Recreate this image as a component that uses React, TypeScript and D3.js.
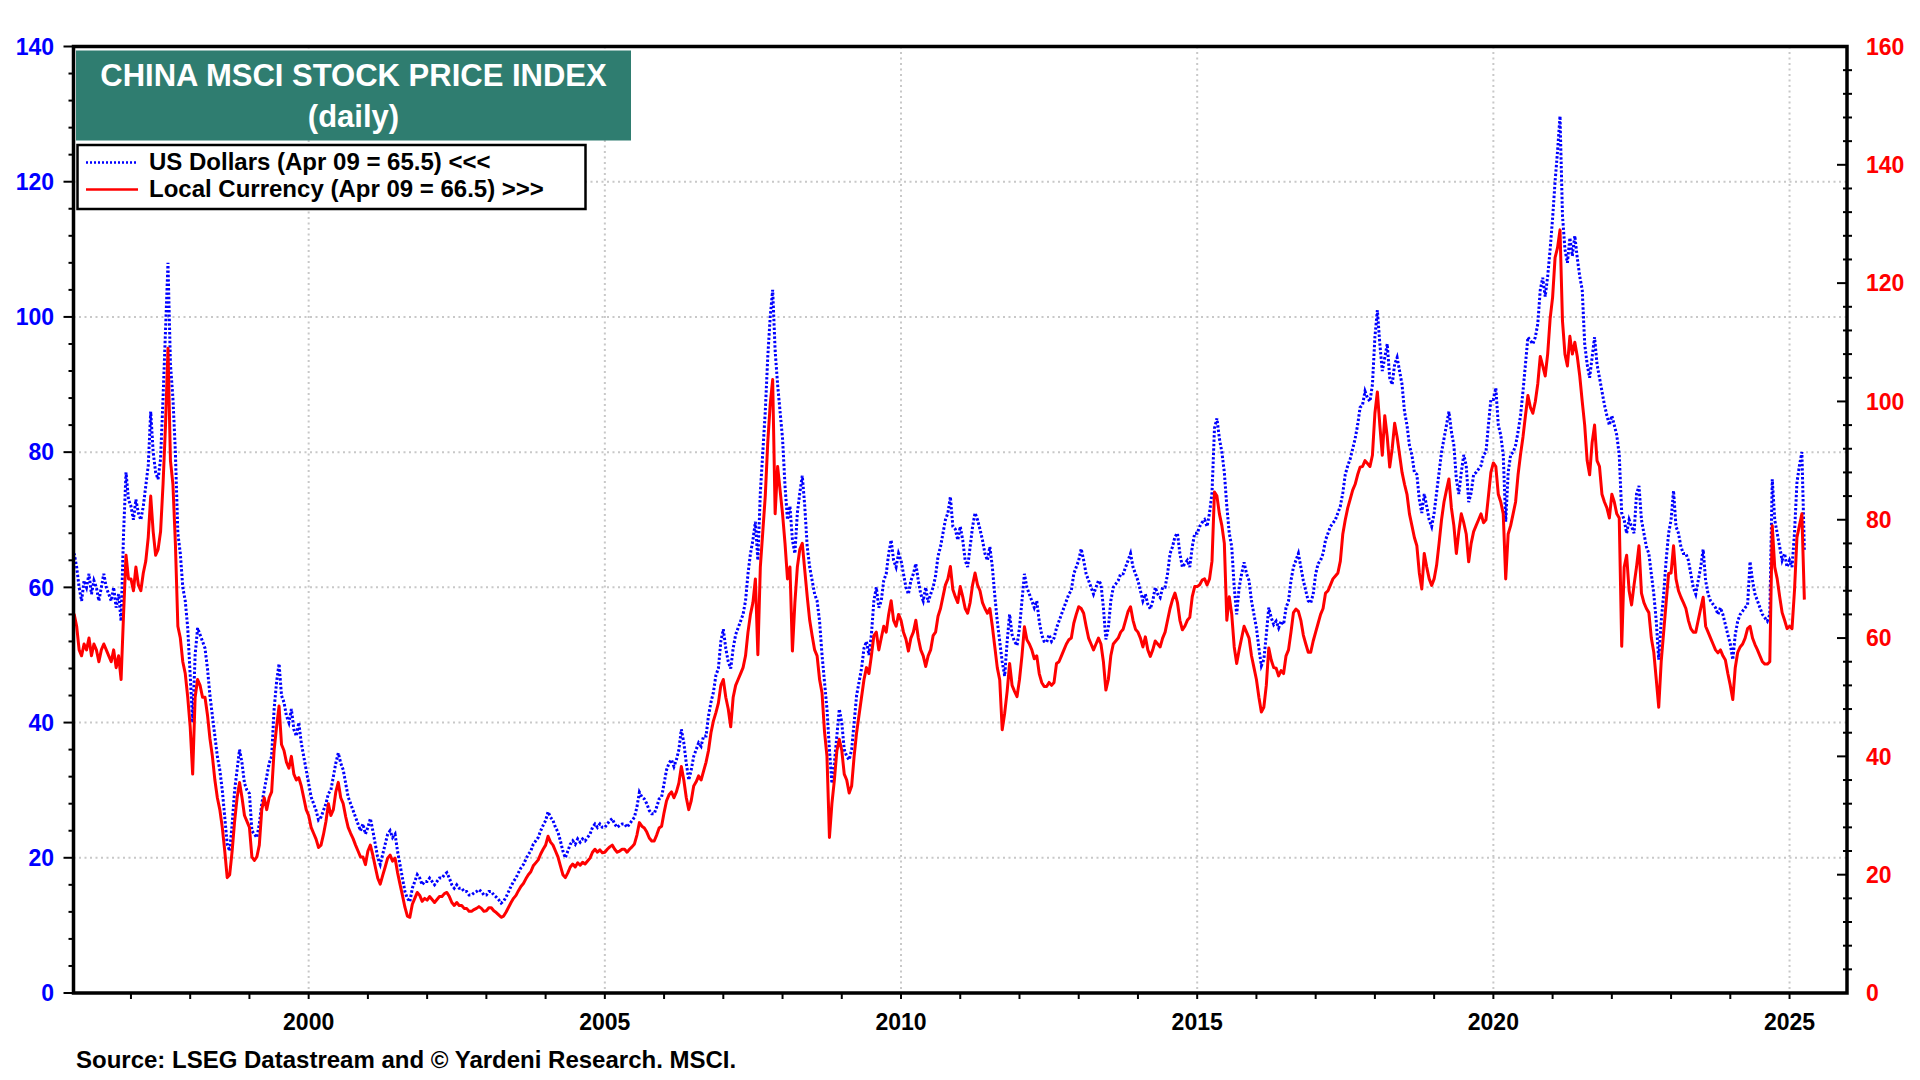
import React from "react";
import * as d3 from "d3";

// ---- data (semi-monthly readings, first value = Jan 1996) ----
const START_YEAR = 1996;
const STEPS_PER_YEAR = 24;

const usdDollars: number[] = [
  // 1996
  63, 65, 63, 60, 58, 61, 60, 62, 59, 61, 60, 58, 60, 62, 60, 59, 58, 60, 57, 59, 55, 68, 77, 73,
  // 1997
  72, 70, 73, 71, 70, 72, 75, 78, 86, 80, 77, 76, 79, 88, 98, 108, 93, 88, 80, 68, 65, 60, 58, 54,
  // 1998
  47, 40, 50, 54, 53, 52, 51, 48, 44, 41, 38, 35, 33, 30, 26, 22, 21, 25, 30, 33, 36, 34, 31, 30,
  // 1999
  29.5, 24, 23.5, 23, 25, 28, 30, 32, 34, 35, 42, 46, 48.7, 44, 43, 41, 40, 42, 39, 38, 40, 37, 35, 33,
  // 2000
  31, 29, 28, 27, 25.6, 26, 27, 28, 29.5, 30, 32, 34, 35.5, 34, 33, 31, 29, 28, 27, 26, 25, 24, 25, 23.5,
  // 2001
  24.5, 25.8, 24, 22, 20, 19, 20.5, 22, 23.5, 24, 23, 23.5, 21, 19, 17, 15, 14, 13.5, 15.5, 16.5, 17.5, 17, 16, 16.5,
  // 2002
  16.5, 17, 16.5, 16, 16.5, 17, 17, 17.5, 17.8, 17, 16, 15.5, 16, 15.5, 15.5, 15, 15, 14.5, 14.5, 14.8, 15, 15.3, 15, 14.5,
  // 2003
  14.5, 15, 15, 14.5, 14.2, 13.8, 13.3, 13.6, 14.2, 15, 15.8, 16.5, 17, 17.8, 18.5, 19, 19.8, 20.5, 21, 22, 22.5, 23, 24, 24.8,
  // 2004
  25.5, 26.8, 26, 25.5, 24.5, 23.8, 22.5, 21, 20, 21, 22, 22.5, 22, 22.8, 22.3, 22.8, 22.5, 23, 23.5, 24.5, 25, 24.5, 25, 24.5,
  // 2005
  24.5, 25, 25.5, 25.8, 25, 24.5, 24.8, 25, 25, 24.5, 25, 25.5, 26, 27.5, 29.7, 29, 28.7, 28, 27, 26.5, 26.5, 27.5, 28.7, 29,
  // 2006
  31, 33, 34, 34.5, 33.5, 34.5, 36, 39, 37, 34, 31.5, 33, 35, 36, 37, 36.5, 38, 38, 41, 43, 44.5, 47, 48, 52,
  // 2007
  53.8, 51, 49, 48, 51, 53, 54, 55, 56, 58, 62, 65, 67, 69.7, 64, 74, 80, 86, 94, 100, 104, 95, 90, 86,
  // 2008
  82, 75, 70, 72, 67, 65, 71, 74, 76.5, 72, 66, 63, 61, 59, 58, 55, 50, 46, 42, 36, 31, 34, 38, 42,
  // 2009
  40, 36, 35, 34.5, 36, 40, 44, 46, 48, 51, 52, 50, 53, 58, 60, 57, 58, 61, 62, 65, 67, 64, 63, 65,
  // 2010
  64, 62, 60, 59, 61, 62, 63.5, 61, 59, 58, 60, 57.8, 59, 60, 61.7, 64.6, 66, 68, 70, 71, 73.4, 69, 68.6, 67,
  // 2011
  69, 67, 64, 63, 66, 69, 71, 70, 68.6, 67, 65, 64, 66, 63, 58.8, 55, 52, 49, 46.9, 52, 56, 53, 52, 51.4,
  // 2012
  54, 58, 62, 60, 59, 58, 57, 58, 55, 53, 52, 51.9, 53, 52, 52.5, 54, 55, 56, 57, 58, 59, 59.5, 62, 63,
  // 2013
  64, 65.7, 64, 62, 61, 60, 59, 60, 61, 60.5, 57, 52.3, 54, 58, 60, 60.5, 61, 62, 62, 63, 64, 65, 63, 62,
  // 2014
  61, 59.5, 58, 59, 57.5, 56.8, 58, 60, 59, 58.5, 60, 60, 62, 65, 66, 67.5, 68, 65, 63, 63.5, 64, 63, 66, 68,
  // 2015
  68, 69, 69.6, 70, 69, 71, 74, 83.5, 85, 82, 80, 77, 72, 68, 66, 60, 56, 60, 62, 63.7, 62, 61, 58, 56,
  // 2016
  54, 51, 48.4, 49.3, 53, 57, 55.5, 54.5, 55, 54, 55, 54.5, 57, 58, 61, 63, 64, 65, 63, 61, 59.5, 58, 57.7, 59,
  // 2017
  62, 63.5, 64, 65, 67, 68, 69, 69.5, 70, 71, 72, 74, 76.7, 78, 79, 80.5, 82, 84, 86.6, 87, 89, 88, 87.5, 90,
  // 2018
  97, 101, 96, 92, 94, 96, 91, 90, 93, 94, 92, 90, 86, 84, 81, 79.6, 77, 76.7, 73, 71, 73.8, 72, 70, 69,
  // 2019
  71, 74, 77, 80, 82, 84, 86, 83, 81, 76, 73.8, 77, 79.6, 78, 72.6, 74, 76.7, 77, 77.5, 78, 79.6, 80, 84, 87.8,
  // 2020
  87.8, 89.5, 84, 82.5, 79.6, 69.7, 77, 79.6, 80, 81, 83, 85.4, 89, 93, 97, 96.5, 96, 97, 99, 104, 105.8, 103, 106, 110,
  // 2021
  114.6, 120, 124.5, 129.7, 115, 110, 108, 111.7, 109, 112, 108.7, 106, 104, 96, 93, 91, 94, 97, 93, 91, 89, 87, 85.4, 84,
  // 2022
  85.4, 84, 82.5, 79.6, 71, 70, 68, 70, 69, 68, 73.8, 75, 70, 68, 66, 65, 62, 59, 55, 49.3, 55, 59, 64, 68,
  // 2023
  70, 74.3, 69, 68, 66, 65, 65, 64, 62, 60, 59, 61, 63, 65.6, 61, 59, 58, 57.5, 57, 56, 57, 56, 54.5, 53,
  // 2024
  51.6, 49.3, 53, 55, 56, 56.5, 57, 57.4, 63.8, 61, 59, 58, 57, 56, 55.5, 55, 56, 76, 70, 68, 66, 64, 65, 63,
  // 2025
  64, 63, 68, 75.5, 78, 80, 65.5,
];

const localCurrency: number[] = [
  // 1996
  63, 64, 62, 58, 57, 59, 58, 60, 57, 59, 58, 56, 58, 59, 58, 57, 56, 58, 55, 57, 53, 64, 74, 70,
  // 1997
  70, 68, 72, 69, 68, 71, 73, 77, 84, 78, 74, 75, 78, 86, 96, 109, 90, 86, 76, 62, 60, 56, 54, 50,
  // 1998
  45, 37, 50, 53, 52, 50, 50, 47, 43, 40, 36, 33, 31, 28, 24, 19.5, 20, 24, 29, 33, 35.6, 33, 30, 29,
  // 1999
  28, 23, 22.4, 23, 25, 31, 33, 31, 33, 34, 41, 45, 48.5, 42, 41, 39, 38, 40, 37, 36, 36.4, 35, 33, 31,
  // 2000
  30, 28, 27, 26, 24.6, 25, 26.8, 29, 32, 30, 31, 34, 35.6, 33, 32, 29.8, 28, 27, 26.1, 25, 24, 23, 23, 21.7,
  // 2001
  24, 25, 23.3, 21.3, 19.4, 18.4, 19.9, 21.3, 22.8, 23.3, 22.3, 22.8, 20.4, 18.4, 16.5, 14.5, 13, 12.8, 15, 16, 17, 16.5, 15.5, 16,
  // 2002
  15.7, 16.3, 15.8, 15.3, 15.8, 16.3, 16.3, 16.8, 17, 16.3, 15.3, 14.8, 15.3, 14.8, 14.8, 14.3, 14.3, 13.8, 13.8, 14.1, 14.3, 14.6, 14.3, 13.8,
  // 2003
  13.9, 14.4, 14.4, 13.9, 13.6, 13.2, 12.8, 13, 13.7, 14.5, 15.3, 16, 16.5, 17.3, 18, 18.5, 19.3, 20, 20.5, 21.5, 22, 22.5, 23.5, 24.3,
  // 2004
  25, 26.5, 25.5, 25, 24, 23, 21.5, 20, 19.5, 20.3, 21.3, 21.8, 21.3, 22, 21.6, 22.1, 21.8, 22.3, 22.8, 23.8, 24.3, 23.8, 24.2, 23.7,
  // 2005
  23.8, 24.3, 24.7, 25, 24.3, 23.8, 24, 24.3, 24.3, 23.8, 24.3, 24.7, 25.2, 26.7, 28.8, 28.2, 27.9, 27.2, 26.2, 25.7, 25.7, 26.7, 27.9, 28.2,
  // 2006
  30.5, 32.5, 33.5, 34, 33, 34, 35.5, 38.3, 36, 33, 31, 32.5, 35, 35.7, 36.7, 36, 37.5, 39, 41, 44, 46, 47.4, 49, 52,
  // 2007
  53, 50, 48, 45, 50, 52, 53, 54, 55, 57, 61, 64, 66, 70, 57.2, 72, 78, 84, 93, 99.5, 103.7, 81, 89, 85,
  // 2008
  81, 76, 70, 72, 57.8, 66, 72, 75, 76, 71.5, 67, 63, 60.4, 58, 57, 53, 50.7, 44.2, 40, 26.3, 32, 36, 40.9, 42.9,
  // 2009
  41, 37, 36, 33.8, 35, 40, 44, 47, 50, 53, 55, 54, 57, 60.4, 61, 58, 60, 62, 61, 64, 66.3, 63, 62, 64,
  // 2010
  63, 61, 59.8, 57.8, 60, 61, 63, 60, 58, 57, 55.2, 57, 58, 60.4, 61, 63.7, 65, 67, 69, 70, 72.1, 68.2, 67, 66,
  // 2011
  68.7, 67, 65, 64.2, 66, 69, 71, 69, 68, 66, 65, 64.2, 65, 62, 58.5, 55, 52.9, 44.5, 47.3, 51, 55.7, 52, 51, 50.1,
  // 2012
  53, 57, 61.9, 59.7, 59, 58, 56.5, 57, 54, 52.5, 51.8, 51.8, 52.5, 52, 52.5, 55.7, 56, 57, 58, 59, 59.7, 60, 62.5, 64,
  // 2013
  65.3, 65, 64.2, 62, 60, 59, 58, 59, 60, 59, 56, 51.2, 53, 57, 59, 59.5, 60, 61, 61.5, 63, 64.5, 65.3, 63, 61.5,
  // 2014
  61, 60, 58.5, 60.2, 58, 56.9, 58, 59.5, 59, 58.5, 60, 61, 63, 65, 66.5, 67.6, 66, 63, 61.4, 62, 63, 63.5, 67, 68.7,
  // 2015
  68.7, 69, 69.8, 70, 69, 70, 73, 84.7, 84, 81, 79, 76, 63, 67, 64, 58.5, 55.7, 58, 60, 62, 61, 60, 57, 55,
  // 2016
  53, 50, 47.5, 48.3, 52, 58.3, 56.3, 55, 54.9, 53.6, 54.5, 54, 57, 58, 61, 64.3, 64.9, 64.5, 63, 60.5, 59, 57.6, 57.6, 59.5,
  // 2017
  61, 62.5, 64, 65, 67.6, 68, 69, 70, 70.5, 71, 73, 77.6, 80, 82, 83.5, 85, 86, 87.6, 88.9, 89, 90, 89.5, 89, 90.9,
  // 2018
  98, 101.6, 96, 90.9, 97.6, 94, 88.9, 92, 96.3, 94, 91, 88, 86, 84.3, 81, 79, 77, 75.6, 71, 68.3, 74.3, 72, 70, 68.9,
  // 2019
  70, 72.3, 76, 80, 83, 85, 86.9, 82, 79, 74.3, 78, 81, 79.5, 77.6, 72.9, 76, 78, 79, 80, 81, 79.5, 80, 84, 88,
  // 2020
  89.6, 89, 84.3, 83, 81, 70, 77.6, 79, 81, 83, 87.6, 91, 94, 97.6, 101, 99, 98, 100, 103, 107.6, 106, 104.3, 108, 114,
  // 2021
  117.6, 124.3, 126, 129, 113.6, 108, 106, 111, 108, 110, 107.6, 104.3, 100, 96, 90, 87.6, 93, 96, 90, 89, 84.3, 83, 82, 80.3,
  // 2022
  84.3, 83, 81, 80.3, 58.6, 72, 74, 68, 65.6, 69, 72, 75.6, 67.6, 66, 65, 64.3, 60, 57.6, 53, 48.3, 56, 61, 66, 70.9,
  // 2023
  71, 75.6, 70, 68, 66.9, 66, 65, 63, 61.6, 61, 61, 63, 65, 66.9, 62, 61, 60, 59, 58, 57.5, 58, 57, 56.3, 54,
  // 2024
  52, 49.6, 55, 57.6, 58.5, 59, 60, 61.6, 62, 60, 58.9, 58, 57, 56, 55.6, 55.6, 56, 79, 72, 70, 67, 64.3, 63, 61.6,
  // 2025
  62, 61.6, 68, 77, 79, 81, 66.5,
];

const yearLabels = [2000, 2005, 2010, 2015, 2020, 2025];
const leftTicks = [0, 20, 40, 60, 80, 100, 120, 140];
const rightTicks = [0, 20, 40, 60, 80, 100, 120, 140, 160];
const titleLines = ["CHINA MSCI STOCK PRICE INDEX", "(daily)"];
const legendLabels = ["US Dollars (Apr 09 = 65.5) <<<", "Local Currency (Apr 09 = 66.5) >>>"];
const sourceText = "Source: LSEG Datastream and \u00A9 Yardeni Research. MSCI.";

const BLUE = "#0000ff";
const RED = "#ff0000";
const TEAL = "#2f7d70";
const FONT = "'Liberation Sans', Arial, Helvetica, sans-serif";

const W = 1920;
const H = 1080;
const PL = 73.5;
const PR = 1847;
const PT = 46.5;
const PB = 993;

export default function App() {
  const x = d3.scaleLinear().domain([1996.03, 2025.97]).range([PL, PR]);
  const yL = d3.scaleLinear().domain([0, 140]).range([PB, PT]);
  const yR = d3.scaleLinear().domain([0, 160]).range([PB, PT]);

  const t = (i: number) => START_YEAR + i / STEPS_PER_YEAR;
  const usdLine = d3
    .line<number>()
    .x((_, i) => x(t(i)))
    .y((d) => yL(d))(usdDollars) as string;
  const localLine = d3
    .line<number>()
    .x((_, i) => x(t(i)))
    .y((d) => yR(d))(localCurrency) as string;

  const minorYears = d3.range(1997, 2026);
  const leftMinor = d3.range(0, 141, 4).filter((v) => v % 20 !== 0);
  const rightMinor = d3.range(0, 161, 4).filter((v) => v % 20 !== 0);
  const gridY = leftTicks.filter((v) => v > 0 && v < 140);

  return (
    <svg
      width={W}
      height={H}
      viewBox={`0 0 ${W} ${H}`}
      style={{ position: "absolute", left: 0, top: 0, background: "#fff" }}
      fontFamily={FONT}
      fontWeight="bold"
    >
      <defs>
        <clipPath id="plotClip">
          <rect x={PL} y={PT} width={PR - PL} height={PB - PT} />
        </clipPath>
      </defs>
      <rect x={0} y={0} width={W} height={H} fill="#fff" />

      {/* grid */}
      <g stroke="#c8c8c8" strokeWidth={2} strokeDasharray="2,3.5">
        {gridY.map((v) => (
          <line key={"gy" + v} x1={PL} x2={PR} y1={yL(v)} y2={yL(v)} />
        ))}
        {yearLabels.map((yr) => (
          <line key={"gx" + yr} x1={x(yr)} x2={x(yr)} y1={PT} y2={PB} />
        ))}
      </g>

      {/* series */}
      <g clipPath="url(#plotClip)" fill="none">
        <path d={usdLine} stroke={BLUE} strokeWidth={3} strokeDasharray="2.4,2" />
        <path d={localLine} stroke={RED} strokeWidth={3} strokeLinejoin="round" />
      </g>

      {/* title box */}
      <rect x={76} y={50.5} width={555} height={90} fill={TEAL} />
      <text x={353.5} y={86} textAnchor="middle" fill="#fff" fontSize={31}>
        {titleLines[0]}
      </text>
      <text x={353.5} y={127} textAnchor="middle" fill="#fff" fontSize={31}>
        {titleLines[1]}
      </text>

      {/* legend */}
      <rect x={77.5} y={145} width={508} height={64} fill="#fff" stroke="#000" strokeWidth={2.5} />
      <line x1={86} x2={138} y1={162.5} y2={162.5} stroke={BLUE} strokeWidth={2.4} strokeDasharray="2,2" />
      <line x1={86} x2={138} y1={189.5} y2={189.5} stroke={RED} strokeWidth={2.6} />
      <text x={149} y={170} fontSize={24} fill="#000">
        {legendLabels[0]}
      </text>
      <text x={149} y={197} fontSize={24} fill="#000">
        {legendLabels[1]}
      </text>

      {/* frame */}
      <rect x={PL} y={PT} width={PR - PL} height={PB - PT} fill="none" stroke="#000" strokeWidth={3.5} />

      {/* axis ticks */}
      <g stroke="#000" strokeWidth={2}>
        {leftTicks.map((v) => (
          <line key={"lt" + v} x1={PL - 10} x2={PL} y1={yL(v)} y2={yL(v)} />
        ))}
        {leftMinor.map((v) => (
          <line key={"lm" + v} x1={PL - 5} x2={PL} y1={yL(v)} y2={yL(v)} />
        ))}
        {rightTicks.map((v) => (
          <line key={"rt" + v} x1={PR - 10} x2={PR} y1={yR(v)} y2={yR(v)} />
        ))}
        {rightMinor.map((v) => (
          <line key={"rm" + v} x1={PR - 4} x2={PR + 5} y1={yR(v)} y2={yR(v)} />
        ))}
        {minorYears.map((yr) => (
          <line key={"xt" + yr} x1={x(yr)} x2={x(yr)} y1={PB} y2={PB + 6} />
        ))}
      </g>

      {/* axis labels */}
      <g fontSize={23}>
        {leftTicks.map((v) => (
          <text key={"ll" + v} x={54} y={yL(v)} dy="0.36em" textAnchor="end" fill={BLUE}>
            {v}
          </text>
        ))}
        {rightTicks.map((v) => (
          <text key={"rl" + v} x={1866} y={yR(v)} dy="0.36em" textAnchor="start" fill={RED}>
            {v}
          </text>
        ))}
        {yearLabels.map((yr) => (
          <text key={"xl" + yr} x={x(yr)} y={1030} textAnchor="middle" fill="#000">
            {yr}
          </text>
        ))}
      </g>

      <text x={76} y={1068} fontSize={24} fill="#000">
        {sourceText}
      </text>
    </svg>
  );
}
